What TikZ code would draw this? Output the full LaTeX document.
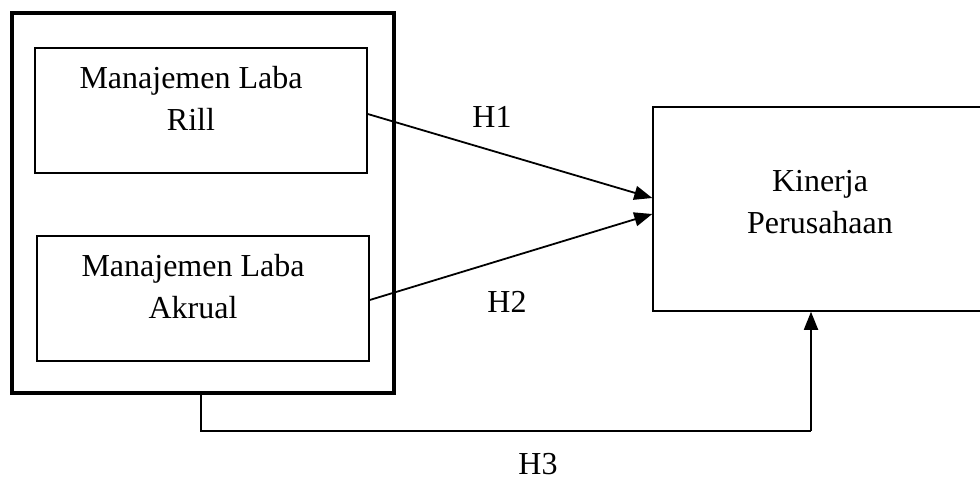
\documentclass[tikz,border=0pt]{standalone}
\usepackage{fontspec}
\setmainfont{Liberation Serif}
\usetikzlibrary{arrows.meta,positioning}

\begin{document}
\begin{tikzpicture}[x=1pt,y=-1pt,
  kotak/.style={draw, line width=1.5pt, minimum width=#1},
  teks/.style={anchor=base, align=center, font=\fontsize{32}{42}\selectfont},
  panah/.style={line width=1.8pt, -{Triangle[length=18pt,width=14pt]}}]
  \useasboundingbox[fill=white] (0,0) rectangle (980,479);
  \node[draw, line width=4pt, minimum width=382pt, minimum height=380pt] (luar) at (203,203) {}; % kotak tebal
  \node[kotak=332pt, minimum height=125pt] (rill) at (201,110.5) {};
  \node[kotak=332pt, minimum height=125pt] (akrual) at (203,298.5) {};
  \node[kotak=337pt, minimum height=204pt] (kinerja) at (821.5,209) {};
  \node[teks] (trill) at (191,130) {Manajemen Laba\\Rill}; % base = baris terakhir
  \node[teks] (takrual) at (193,318) {Manajemen Laba\\Akrual};
  \node[teks] (tkinerja) at (820,233) {Kinerja\\Perusahaan};
  \draw[panah] ([yshift=-3.5pt]rill.east) -- ([yshift=11pt]kinerja.west);
  \draw[panah] ([yshift=-1.5pt]akrual.east) -- ([yshift=-5pt]kinerja.west);
  \node[teks] (h1) at (492,127) {H1};
  \node[teks] (h2) at (507,312) {H2};
  \coordinate (belok) at (811,431); % sudut garis H3
  \draw[line width=1.8pt] ([xshift=-2pt]luar.south) |- (belok);
  \draw[panah] (belok) -- (belok |- kinerja.south);
  \node[teks] (h3) at (538,474) {H3};
\end{tikzpicture}
\end{document}
